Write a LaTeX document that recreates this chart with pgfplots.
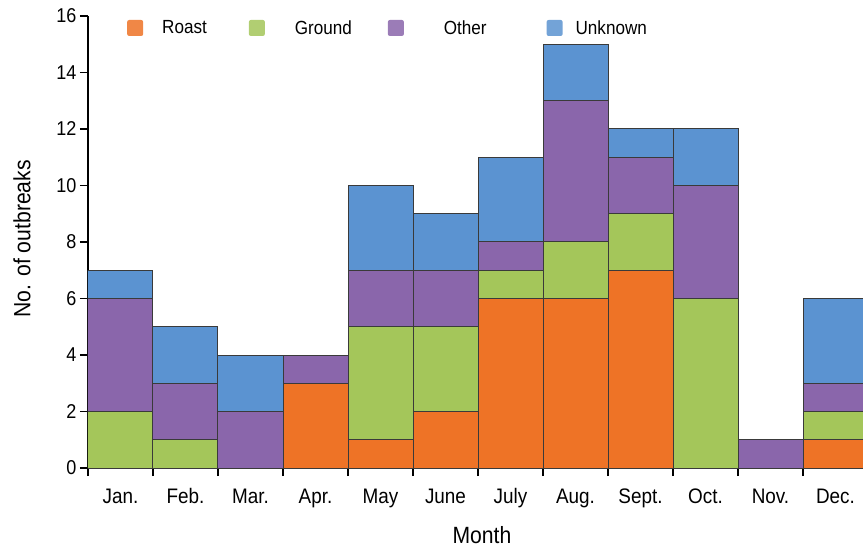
\documentclass[border=0pt]{standalone}
\usepackage{pgfplots}
\pgfplotsset{compat=1.18}
\usepackage{fontspec}
\setmainfont[FakeStretch=0.9]{Liberation Sans}
\definecolor{roast}{HTML}{EE7326}
\definecolor{ground}{HTML}{A4C65A}
\definecolor{other}{HTML}{8A66AB}
\definecolor{unknown}{HTML}{5B93D1}
\definecolor{edge}{HTML}{3A3A3A}
\begin{document}
\begin{tikzpicture}
\useasboundingbox (-88pt,-84pt) rectangle (775pt,468pt);
\begin{axis}[
  scale only axis, width=775pt, height=452pt,
  xmin=-0.5, xmax=11.423, ymin=0, ymax=16,
  axis x line*=bottom, axis y line*=left,
  axis line style={line width=1.3pt, -},
  ybar stacked, bar width=1, bar shift=0,
  xtick={0,...,11},
  xticklabels={Jan.,Feb.,Mar.,Apr.,May,June,July,Aug.,Sept.,Oct.,Nov.,Dec.},
  minor xtick={-0.5,0.5,...,11.5},
  major x tick style={draw=none},
  minor x tick style={draw=black, line width=1.3pt},
  y tick style={draw=black, line width=1.3pt},
  ytick={0,2,...,16},
  tick align=outside,
  major tick length=8pt, minor tick length=8pt,
  /pgf/number format/assume math mode=true,
  yticklabel style={font=\fontsize{20}{24}\selectfont, black},
  xticklabel style={font=\fontsize{21}{25}\selectfont, black, anchor=north, text height=16pt, text depth=5pt, yshift=-8pt},
  xlabel={Month}, ylabel={No. of outbreaks},
  every axis x label/.style={at={(rel axis cs:0.5,0)}, anchor=center, yshift=-67pt, xshift=6.5pt, font=\fontsize{23.5}{28}\selectfont},
  every axis y label/.style={at={(rel axis cs:0,0.507)}, anchor=center, rotate=90, yshift=66pt, font=\fontsize{23.5}{28}\selectfont},
  legend columns=4,
  legend style={at={(rel axis cs:0.0503,0.9735)}, anchor=west, draw=none, fill=none,
    font=\fontsize{19}{22}\selectfont, inner sep=0pt,
    nodes={inner sep=0pt}, column sep=0pt},
  every axis plot post/.append style={legend image code/.code={\fill[white,draw=none] (0pt,-8pt) rectangle (16pt,8pt);\fill[##1,draw=none,fill opacity=0.85,rounded corners=2pt] (0pt,-8pt) rectangle (16pt,8pt);}},
]
\addplot[fill=roast, draw=edge, line width=1pt] coordinates {(0,0) (1,0) (2,0) (3,3) (4,1) (5,2) (6,6) (7,6) (8,7) (9,0) (10,0) (11,1)};
\addplot[fill=ground, draw=edge, line width=1pt] coordinates {(0,2) (1,1) (2,0) (3,0) (4,4) (5,3) (6,1) (7,2) (8,2) (9,6) (10,0) (11,1)};
\addplot[fill=other, draw=edge, line width=1pt] coordinates {(0,4) (1,2) (2,2) (3,1) (4,2) (5,2) (6,1) (7,5) (8,2) (9,4) (10,1) (11,1)};
\addplot[fill=unknown, draw=edge, line width=1pt] coordinates {(0,1) (1,2) (2,2) (3,0) (4,3) (5,2) (6,3) (7,2) (8,1) (9,2) (10,0) (11,3)};
\addlegendentry{\hspace*{19pt}Roast\hspace*{42pt}}
\addlegendentry{\hspace*{30pt}Ground\hspace*{36pt}}
\addlegendentry{\hspace*{40pt}Other\hspace*{60pt}}
\addlegendentry{\hspace*{13pt}Unknown}
\end{axis}
\end{tikzpicture}
\end{document}
